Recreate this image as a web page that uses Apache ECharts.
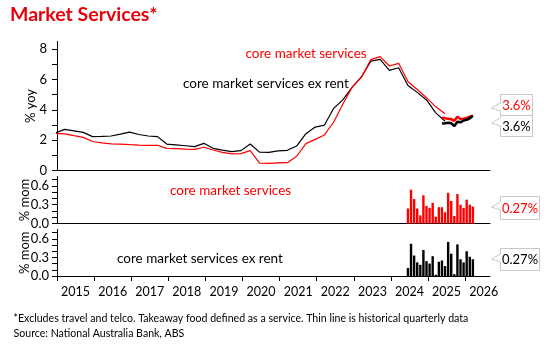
<!DOCTYPE html>
<html>
<head>
<meta charset="utf-8">
<script src="https://cdn.jsdelivr.net/npm/echarts@6/dist/echarts.min.js"></script>
<style>
  html, body { margin: 0; padding: 0; background: #fff; }
  #chart { width: 550px; height: 350px; }
</style>
</head>
<body>
<div id="chart"></div>
<script>
// quarterly % yoy (thin lines), Dec 2014 .. Jun 2025
const coreQtr = [2.46, 2.42, 2.3, 2.19, 1.92, 1.83, 1.76, 1.75, 1.71, 1.68, 1.67, 1.67, 1.47,
  1.45, 1.42, 1.4, 1.54, 1.36, 1.2, 1.1, 1.12, 1.32, 0.5, 0.48, 0.52, 0.53, 0.95, 1.78, 2.06,
  2.35, 3.2, 4.4, 5.5, 6.15, 7.3, 7.5, 6.88, 7.06, 5.86, 5.34, 4.8, 4.2, 3.75];
const exRentQtr = [2.49, 2.72, 2.62, 2.52, 2.24, 2.25, 2.28, 2.4, 2.54, 2.38, 2.28, 2.24, 1.75,
  1.7, 1.64, 1.58, 1.8, 1.47, 1.35, 1.25, 1.32, 1.76, 1.22, 1.2, 1.3, 1.34, 1.62, 2.43, 2.87,
  3.0, 4.1, 4.67, 5.5, 6.18, 7.2, 7.32, 6.6, 6.77, 5.6, 5.15, 4.65, 3.8, 3.25];

// monthly % yoy (thick lines), May 2025 .. Mar 2026
const coreYoy = [3.5, 3.45, 3.42, 3.38, 3.28, 3.55, 3.4, 3.42, 3.46, 3.55, 3.62];
const exRentYoy = [3.1, 3.12, 3.15, 3.12, 2.94, 3.22, 3.18, 3.3, 3.35, 3.45, 3.62];

// monthly % mom (bars), Jun 2024 .. Mar 2026
const coreMom = [0.24, 0.54, 0.39, 0.24, 0.13, 0.45, 0.28, 0.25, 0.33, 0.11, 0.26, 0.26,
  0.18, 0.49, 0.36, 0.12, 0.47, 0.30, 0.25, 0.38, 0.30, 0.27];
const exRentMom = [0.13, 0.52, 0.33, 0.22, 0.18, 0.42, 0.24, 0.20, 0.32, 0.02, 0.23, 0.25,
  0.16, 0.55, 0.36, 0.03, 0.51, 0.27, 0.22, 0.40, 0.31, 0.27];

const years = [2015, 2016, 2017, 2018, 2019, 2020, 2021, 2022, 2023, 2024, 2025, 2026];
const yoyTicks = [0, 2, 4, 6, 8];
const momTicks = [0, 0.3, 0.6];

const RED = "#ff0000";
const FONT = "Lato";

// decimal year at the middle of a month
function monthPos(year, month) {
  return year + (month - 0.5) / 12;
}

// pair values with dates, stepping `step` months from year/month
function dated(values, year, month, step) {
  return values.map((v, i) => {
    const m = month - 1 + i * step;
    return [monthPos(year + Math.floor(m / 12), (m % 12) + 1), v];
  });
}

const xMin = 2015;
const xMax = 2026.67;

function xAxis(gridIndex, bottom) {
  return {
    type: "value",
    gridIndex: gridIndex,
    min: xMin,
    max: xMax,
    axisLine: { show: true, onZero: false, lineStyle: { color: "#000", width: 1 } },
    axisTick: bottom
      ? { show: true, length: 5, customValues: years, lineStyle: { color: "#000" } }
      : { show: false },
    axisLabel: bottom
      ? {
          show: true,
          customValues: years.map((y) => y + 0.5),
          formatter: (v) => String(Math.floor(v)),
          color: "#000",
          fontFamily: FONT,
          fontSize: 12.5,
          margin: 9,
        }
      : { show: false },
    splitLine: { show: false },
  };
}

function yAxis(gridIndex, max, labels, ticks, name, digits, margin) {
  return {
    type: "value",
    gridIndex: gridIndex,
    min: 0,
    max: max,
    name: name,
    nameLocation: "middle",
    nameRotate: 90,
    nameGap: digits ? 25.5 : 19.5,
    nameMoveOverlap: false,
    nameTextStyle: { color: "#000", fontFamily: FONT, fontSize: 13 },
    axisLine: { show: true, lineStyle: { color: "#000", width: 1 } },
    axisTick: { show: true, length: 5, customValues: ticks, lineStyle: { color: "#000" } },
    axisLabel: {
      customValues: labels,
      formatter: (v) => v.toFixed(digits),
      color: "#000",
      fontFamily: FONT,
      fontSize: 13,
      margin: margin,
    },
    splitLine: { show: false },
  };
}

function callout(left, top, w, h, tipY, text, color) {
  return [
    {
      type: "polygon",
      shape: {
        points: [
          [left, top], [left + w, top], [left + w, top + h], [left, top + h],
          [left, tipY + 3], [left - 9, tipY], [left, tipY - 5],
        ],
      },
      style: { fill: "#fff", stroke: "#c8c8c8", lineWidth: 1 },
      z: 10,
    },
    {
      type: "text",
      x: left + w / 2,
      y: top + h / 2 + 0.5,
      style: {
        text: text, fill: color, fontFamily: FONT, fontSize: 13,
        align: "center", verticalAlign: "middle",
        textAlign: "center", textVerticalAlign: "middle",
      },
      z: 11,
    },
  ];
}

function label(x, y, text, color, size) {
  return {
    type: "text",
    x: x,
    y: y,
    style: {
      text: text, fill: color, fontFamily: FONT, fontSize: size || 13.5,
      align: "left", verticalAlign: "middle",
      textAlign: "left", textVerticalAlign: "middle",
    },
  };
}

const last = (a) => a[a.length - 1];

const myChart = echarts.init(document.getElementById("chart"), null, { renderer: "canvas" });

myChart.setOption({
  animation: false,
  backgroundColor: "#fff",
  grid: [
    { left: 57, right: 60, top: 41.4, height: 129.3 },
    { left: 57, right: 60, top: 176.5, height: 47 },
    { left: 57, right: 60, top: 229.5, height: 46.5 },
  ],
  xAxis: [xAxis(0, false), xAxis(1, false), xAxis(2, true)],
  yAxis: [
    yAxis(0, 8.5, yoyTicks, [0, 1, 2, 3, 4, 5, 6, 7, 8], "% yoy", 0, 10),
    yAxis(1, 0.75, momTicks, [0, 0.1, 0.2, 0.3, 0.4, 0.5, 0.6, 0.7], "% mom", 1, 8),
    yAxis(2, 0.75, momTicks, [0, 0.1, 0.2, 0.3, 0.4, 0.5, 0.6, 0.7], "% mom", 1, 8),
  ],
  series: [
    {
      name: "ex rent quarterly",
      type: "line",
      xAxisIndex: 0,
      yAxisIndex: 0,
      data: dated(exRentQtr, 2014, 12, 3),
      showSymbol: false,
      lineStyle: { color: "#000", width: 1.2 },
      itemStyle: { color: "#000" },
    },
    {
      name: "core quarterly",
      type: "line",
      xAxisIndex: 0,
      yAxisIndex: 0,
      data: dated(coreQtr, 2014, 12, 3),
      showSymbol: false,
      lineStyle: { color: RED, width: 1.2 },
      itemStyle: { color: RED },
    },
    {
      name: "core monthly",
      type: "line",
      xAxisIndex: 0,
      yAxisIndex: 0,
      data: dated(coreYoy, 2025, 5, 1),
      showSymbol: false,
      lineStyle: { color: RED, width: 2.6 },
      itemStyle: { color: RED },
    },
    {
      name: "ex rent monthly",
      type: "line",
      xAxisIndex: 0,
      yAxisIndex: 0,
      data: dated(exRentYoy, 2025, 5, 1),
      showSymbol: false,
      lineStyle: { color: "#000", width: 2.6 },
      itemStyle: { color: "#000" },
    },
    {
      name: "core mom",
      type: "bar",
      xAxisIndex: 1,
      yAxisIndex: 1,
      data: dated(coreMom, 2024, 6, 1),
      barWidth: 2.4,
      itemStyle: { color: RED },
    },
    {
      name: "ex rent mom",
      type: "bar",
      xAxisIndex: 2,
      yAxisIndex: 2,
      data: dated(exRentMom, 2024, 6, 1),
      barWidth: 2.4,
      itemStyle: { color: "#000" },
    },
  ],
  graphic: [
    {
      type: "text",
      left: 10,
      top: 5,
      style: {
        text: "Market Services*", fill: "#e8000b", fontFamily: FONT,
        fontSize: 19.5, fontWeight: "bold",
      },
    },
    label(245.5, 53.5, "core market services", RED),
    label(183, 83.5, "core market services ex rent", "#000"),
    label(170, 190.5, "core market services", RED),
    label(117, 259, "core market services ex rent", "#000"),
    label(13.5, 319, "*Excludes travel and telco. Takeaway food defined as a service. Thin line is historical quarterly data", "#000", 10.6),
    label(13.5, 334, "Source: National Australia Bank, ABS", "#000", 10.6),
    ...callout(500.5, 94.5, 32, 21, 108, last(coreYoy).toFixed(1) + "%", RED),
    ...callout(500.5, 115.5, 32, 21, 123, last(exRentYoy).toFixed(1) + "%", "#000"),
    ...callout(500.5, 196.5, 39, 23, 207, last(coreMom).toFixed(2) + "%", RED),
    ...callout(500.5, 248.5, 39, 22, 259, last(exRentMom).toFixed(2) + "%", "#000"),
  ],
});

window.addEventListener("resize", () => myChart.resize());
</script>
</body>
</html>
